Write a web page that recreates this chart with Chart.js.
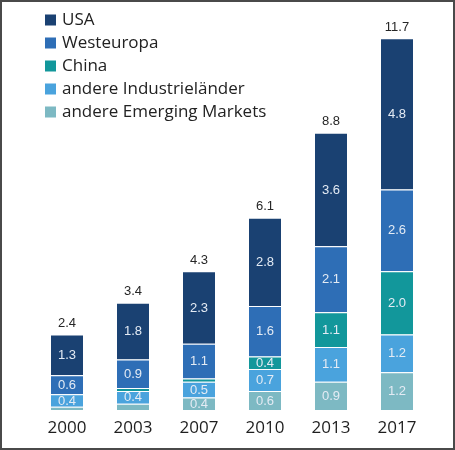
<!DOCTYPE html>
<html>
<head>
<meta charset="utf-8">
<script src="https://cdn.jsdelivr.net/npm/chart.js@4.4.0/dist/chart.umd.min.js"></script>
<style>
  html, body { margin: 0; padding: 0; background: #fff; }
  #wrap { position: relative; width: 455px; height: 450px; }
  #frame { position: absolute; left: 0; top: 0; width: 455px; height: 450px; box-sizing: border-box; border: 2px solid #4a4a4a; pointer-events: none; }
</style>
</head>
<body>
<div id="wrap">
  <canvas id="c" width="455" height="450"></canvas>
  <div id="frame"></div>
</div>
<script>
const categories = ['2000', '2003', '2007', '2010', '2013', '2017'];
const usa = [1.3, 1.8, 2.3, 2.8, 3.6, 4.8];
const westeuropa = [0.6, 0.9, 1.1, 1.6, 2.1, 2.6];
const china = [0.0, 0.1, 0.1, 0.4, 1.1, 2.0];
const andereIndustrielaender = [0.4, 0.4, 0.5, 0.7, 1.1, 1.2];
const andereEmerging = [0.1, 0.2, 0.4, 0.6, 0.9, 1.2];
const totals = [2.4, 3.4, 4.3, 6.1, 8.8, 11.7];

const seriesNames = ['andere Emerging Markets', 'andere Industrieländer', 'China', 'Westeuropa', 'USA'];
const seriesData = [andereEmerging, andereIndustrielaender, china, westeuropa, usa];
const seriesColors = ['#7db9c3', '#4aa3dd', '#12979b', '#2e6eb6', '#1a4172'];

const datasets = seriesNames.map((name, i) => ({
  label: name,
  data: seriesData[i],
  backgroundColor: seriesColors[i],
  borderColor: '#ffffff',
  borderWidth: { top: 1, bottom: 0, left: 0, right: 0 },
  borderSkipped: false,
  categoryPercentage: 1.0,
  barPercentage: 0.485
}));

const labelPlugin = {
  id: 'valueLabels',
  afterDatasetsDraw(chart) {
    const ctx = chart.ctx;
    ctx.save();
    ctx.textAlign = 'center';
    ctx.textBaseline = 'middle';
    ctx.font = '13px "Liberation Sans", Arial, sans-serif';
    chart.data.datasets.forEach((ds, di) => {
      const meta = chart.getDatasetMeta(di);
      meta.data.forEach((el, i) => {
        const v = ds.data[i];
        if (v >= 0.3) {
          ctx.fillStyle = '#e4ebf4';
          ctx.fillText(v.toFixed(1), el.x, (el.y + el.base) / 2 + 0.5);
        }
      });
    });
    const topMeta = chart.getDatasetMeta(chart.data.datasets.length - 1);
    ctx.fillStyle = '#262626';
    topMeta.data.forEach((el, i) => {
      ctx.fillText(totals[i].toFixed(1), el.x, el.y - 11);
    });
    ctx.restore();
  }
};

const legendPlugin = {
  id: 'customLegend',
  afterDraw(chart) {
    const ctx = chart.ctx;
    ctx.save();
    ctx.textAlign = 'left';
    ctx.textBaseline = 'middle';
    ctx.font = '17px "Open Sans", sans-serif';
    const n = chart.data.datasets.length;
    for (let k = 0; k < n; k++) {
      const ds = chart.data.datasets[n - 1 - k];
      const cy = 20 + k * 23;
      ctx.fillStyle = ds.backgroundColor;
      ctx.fillRect(45, cy - 5.5, 11, 11);
      ctx.fillStyle = '#222222';
      ctx.fillText(ds.label, 62, cy);
    }
    ctx.restore();
  }
};

new Chart(document.getElementById('c'), {
  type: 'bar',
  data: { labels: categories, datasets: datasets },
  plugins: [labelPlugin, legendPlugin],
  options: {
    responsive: false,
    animation: false,
    layout: { padding: { left: 34, right: 25, top: 4.5, bottom: 11.6 } },
    plugins: {
      tooltip: { enabled: false },
      legend: { display: false }
    },
    scales: {
      x: {
        stacked: true,
        grid: { display: false },
        border: { display: false },
        ticks: {
          padding: 0,
          color: '#1e1e1e',
          font: { family: '"Open Sans", sans-serif', size: 17 }
        }
      },
      y: {
        stacked: true,
        display: false,
        min: 0,
        max: 12.87
      }
    }
  }
});
</script>
</body>
</html>
